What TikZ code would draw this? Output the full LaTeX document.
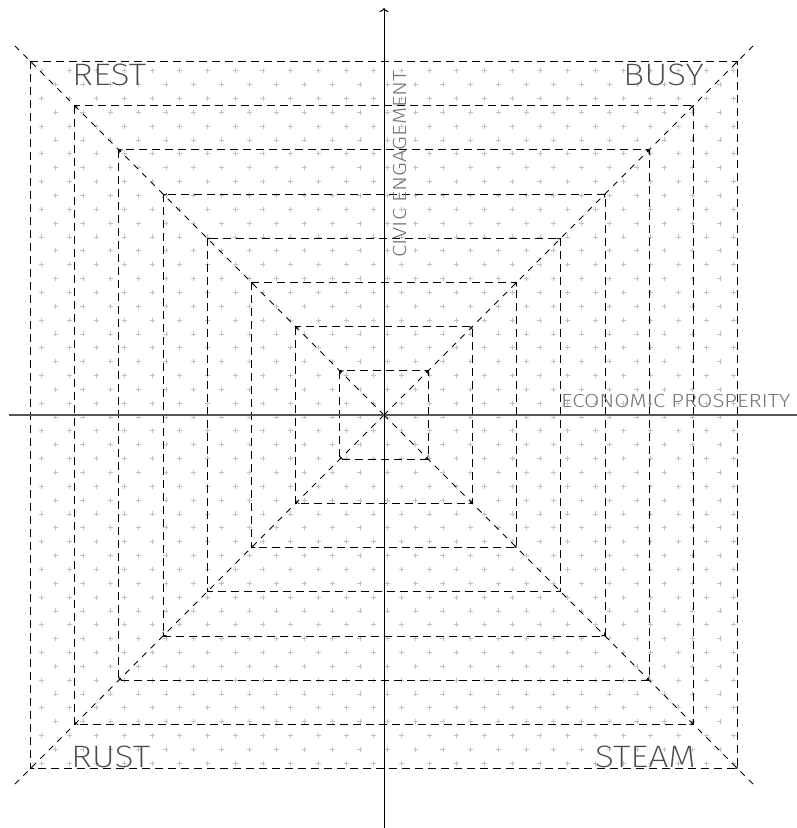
\documentclass[tikz,border=0pt]{standalone}
\usepackage{graphicx}
\usepackage{fontspec}
\setmainfont{Fira Sans Light}
\newfontfamily\thinfont{Fira Sans ExtraLight}
\usetikzlibrary{arrows.meta}
\definecolor{plusgray}{HTML}{C2C2C2}
\definecolor{lblgray}{HTML}{4A4A4A}
\definecolor{axlbl}{HTML}{767676}
\definecolor{haxis}{HTML}{555555}
\newcommand{\qwide}[1]{\scalebox{1.15}[1]{#1}}
\newcommand{\awide}[1]{\scalebox{1.17}[1]{#1}}
\begin{document}
\begin{tikzpicture}[x=1pt,y=-1pt,
  plusmark/.style={draw=plusgray,line width=0.7pt},
  sq/.style={draw=black,line width=0.8pt,dash pattern=on 8pt off 5pt},
  diag/.style={draw=black,line width=0.8pt,dash pattern=on 6pt off 6pt},
  tipped/.style={line width=0.8pt,-{To[length=3pt,width=6pt]}},
  quadlbl/.style={inner sep=0pt,text=lblgray,font=\thinfont\fontsize{31}{31}\selectfont},
  axislbl/.style={inner sep=0pt,text=axlbl,font=\fontsize{19}{19}\selectfont}]
\useasboundingbox (0,0) rectangle (796,828);
% background grid of plus marks
\foreach \j in {0,...,50}{
  \pgfmathsetmacro\yy{70.7+13.85*\j}
  \pgfmathsetmacro\xo{mod(\j,2)==0 ? 41.3 : 55.15}
  \pgfmathtruncatemacro\nk{mod(\j,2)==0 ? 25 : 24}
  \draw[plusmark] foreach \k in {0,...,\nk}{
    (\xo+27.7*\k-2.5,\yy) -- ++(5,0) (\xo+27.7*\k,\yy-2.5) -- ++(0,5)};
}
\coordinate (O) at (384,415);
\begin{scope}[shift={(O)}]
  % nested dashed squares
  \foreach \k in {1,...,8}{
    \draw[sq] (-44.2*\k,-44.2*\k) rectangle (44.2*\k,44.2*\k);
  }
  % diagonals
  \coordinate (NW) at (-371,-371);
  \coordinate (NE) at (371,-371);
  \coordinate (SW) at (-371,371);
  \coordinate (SE) at (371,371);
  \coordinate (C) at (0,0);
  \foreach \c in {NW,NE,SW,SE}{ \draw[diag] (C) -- (\c); }
  % small arrow tips at square corners
  \foreach \k in {1,...,8}{
    \foreach \sx/\sy in {-1/-1,1/-1,-1/1,1/1}{
      \draw[tipped] (\sx*44.2*\k-\sx*1,\sy*44.2*\k-\sy*1) -- (\sx*44.2*\k,\sy*44.2*\k);
    }
  }
  \draw[tipped] (1,1) -- (C);
\end{scope}
% axes
\coordinate (xl) at (9,415);
\coordinate (xr) at (800,415);
\coordinate (yb) at (384,832);
\coordinate (yt) at (384,8);
\draw[haxis,line width=1.6pt] (xl) -- (xr);
\draw[black,line width=1pt,-{To[length=4pt,width=9pt]}] (yb) -- (yt);
% labels
\node[quadlbl,anchor=base west] (rest) at (72,85) {\qwide{REST}};
\node[quadlbl,anchor=base east] (busy) at (704,85) {\qwide{BUSY}};
\node[quadlbl,anchor=base west] (rust) at (71,767) {\qwide{RUST}};
\node[quadlbl,anchor=base east] (steam) at (696,767) {\qwide{STEAM}};
\node[axislbl,anchor=base west] (econ) at (561,407) {\awide{ECONOMIC PROSPERITY}};
\node[axislbl,anchor=base west,rotate=90] (civic) at (406,258) {\awide{CIVIC ENGAGEMENT}};
\end{tikzpicture}
\end{document}
